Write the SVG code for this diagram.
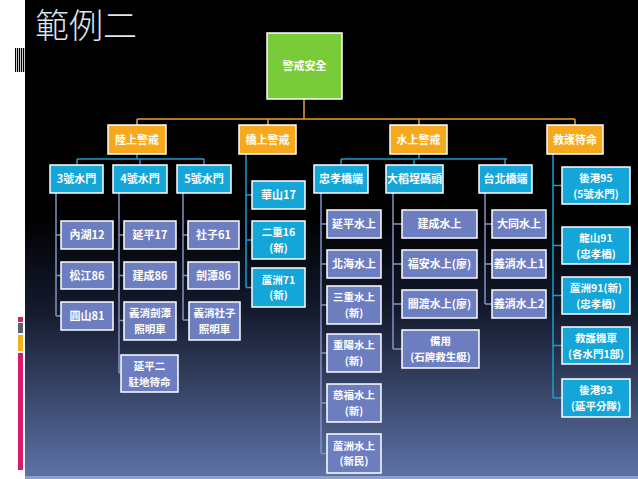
<svg xmlns="http://www.w3.org/2000/svg" width="638" height="479" viewBox="0 0 638 479">
<defs>
<linearGradient id="bg" x1="0" y1="0" x2="0" y2="1">
<stop offset="0" stop-color="#000000"/>
<stop offset="0.45" stop-color="#000000"/>
<stop offset="0.65" stop-color="#141b2e"/>
<stop offset="1" stop-color="#5e73a8"/>
</linearGradient>
<style>
.t{font-family:"Noto Sans CJK TC","Noto Sans CJK SC",sans-serif;font-weight:700;font-size:11px;fill:#ffffff;text-anchor:middle}
.t2{font-family:"Noto Sans CJK TC","Noto Sans CJK SC",sans-serif;font-weight:700;font-size:10.5px;fill:#ffffff;text-anchor:middle}
.g{fill:#7acb3a;stroke:#ffffff;stroke-width:1.5}
.o{fill:#f6a91d;stroke:#ffffff;stroke-width:1.5}
.c{fill:#14a6d8;stroke:#ffffff;stroke-width:1.5}
.p{fill:#6d7ec0;stroke:#ffffff;stroke-width:1.5}
.lo{fill:none;stroke:#e8a22c;stroke-width:1.5}
.lc{fill:none;stroke:#1e9ccc;stroke-width:1.5}
.lp{fill:none;stroke:#8590c4;stroke-width:1.5}
</style>
</defs>
<rect x="0" y="0" width="638" height="479" fill="#ffffff"/>
<rect x="25" y="0" width="613" height="479" fill="url(#bg)"/>
<rect x="25" y="476" width="613" height="3" fill="#8fa0cf"/>
<g id="deco">
<rect x="15" y="48" width="10" height="24" fill="#ffffff"/>
<rect x="15" y="48" width="1.2" height="24" fill="#000"/>
<rect x="17" y="48" width="1.2" height="24" fill="#000"/>
<rect x="19" y="48" width="1.2" height="24" fill="#000"/>
<rect x="21" y="48" width="1.2" height="24" fill="#000"/>
<rect x="23" y="48" width="1.2" height="24" fill="#000"/>
<rect x="18" y="317" width="5" height="5" fill="#d81b72"/>
<rect x="18" y="323" width="5" height="10" fill="#5a6070"/>
<rect x="18" y="335" width="5" height="16" fill="#f0b020"/>
<rect x="18" y="353" width="5" height="117" fill="#d81b72"/>
</g>
<text x="35" y="38" style="font-family:'Noto Sans CJK TC','Noto Sans CJK SC',sans-serif;font-weight:300;font-size:34px;fill:#dbe6ee">範例二</text>
<g id="connectors">
<path class="lo" d="M304,99V119M137,119H575M137,119V125M268,119V125M419,119V125M575,119V125"/>
<path class="lc" d="M137,154V159M77,159H204M77,159V165M140,159V165M204,159V165"/>
<path class="lc" d="M246,154V287.5M246,195H252M246,240H252M246,287.5H252"/>
<path class="lc" d="M419,154V159M341,159H507M341,159V165M414,159V165M505,159V165"/>
<path class="lc" d="M553,154V398M553,185.5H562M553,245.5H562M553,295.5H562M553,345.5H562M553,398H562"/>
<path class="lp" d="M56,193V316M56,235H61M56,275.5H61M56,316H61"/>
<path class="lp" d="M119,193V373M119,235H124M119,275.5H124M119,320.5H124M119,373H121"/>
<path class="lp" d="M183,193V320M183,235H188M183,275.5H188M183,320H189"/>
<path class="lp" d="M321,193V453.5M321,224H327M321,264H327M321,305H327M321,353H327M321,403H327M321,453.5H327"/>
<path class="lp" d="M393,193V349M393,224H402M393,264H402M393,304H402M393,349H402"/>
<path class="lp" d="M485,193V304M485,224H492M485,264H492M485,304H492"/>
</g>
<g id="n-root"><rect class="g" x="267" y="33" width="75" height="66"/><text class="t" x="304.5" y="70">警戒安全</text></g>
<g id="n-land"><rect class="o" x="108" y="125" width="58" height="29"/><text class="t" x="137" y="143.5">陸上警戒</text></g>
<g id="n-bridge"><rect class="o" x="239" y="125" width="57" height="29"/><text class="t" x="267.5" y="143.5">橋上警戒</text></g>
<g id="n-water"><rect class="o" x="390" y="125" width="57" height="29"/><text class="t" x="418.5" y="143.5">水上警戒</text></g>
<g id="n-rescue"><rect class="o" x="547" y="125" width="56" height="29"/><text class="t" x="575" y="143.5">救護待命</text></g>

<g id="n-g3"><rect class="c" x="50" y="165" width="53" height="28"/><text class="t" x="76.5" y="183">3號水門</text></g>
<g id="n-g4"><rect class="c" x="113" y="165" width="54" height="28"/><text class="t" x="140" y="183">4號水門</text></g>
<g id="n-g5"><rect class="c" x="177" y="165" width="54" height="28"/><text class="t" x="204" y="183">5號水門</text></g>

<g id="n-neihu"><rect class="p" x="61" y="221" width="52" height="28"/><text class="t" x="87" y="239">內湖12</text></g>
<g id="n-songjiang"><rect class="p" x="61" y="262" width="52" height="27"/><text class="t" x="87" y="279.5">松江86</text></g>
<g id="n-yuanshan"><rect class="p" x="61" y="302" width="52" height="28"/><text class="t" x="87" y="320">圓山81</text></g>

<g id="n-yanping"><rect class="p" x="124" y="221" width="52" height="28"/><text class="t" x="150" y="239">延平17</text></g>
<g id="n-jiancheng"><rect class="p" x="124" y="262" width="52" height="27"/><text class="t" x="150" y="279.5">建成86</text></g>
<g id="n-yxjt"><rect class="p" x="124" y="302" width="52" height="38"/><text class="t2" x="150" y="317">義消劍潭<tspan x="150" dy="15.5">照明車</tspan></text></g>
<g id="n-yp2"><rect class="p" x="121" y="355" width="57" height="37"/><text class="t2" x="149.5" y="370">延平二<tspan x="149.5" dy="15.5">駐地待命</tspan></text></g>

<g id="n-shezi"><rect class="p" x="188" y="221" width="51" height="28"/><text class="t" x="213.5" y="239">社子61</text></g>
<g id="n-jiantan"><rect class="p" x="188" y="262" width="51" height="27"/><text class="t" x="213.5" y="279.5">劍潭86</text></g>
<g id="n-yxsz"><rect class="p" x="189" y="302" width="51" height="38"/><text class="t2" x="214.5" y="317">義消社子<tspan x="214.5" dy="15.5">照明車</tspan></text></g>

<g id="n-huashan"><rect class="c" x="252" y="181" width="53" height="28"/><text class="t" x="278.5" y="199">華山17</text></g>
<g id="n-erchong"><rect class="c" x="252" y="221" width="53" height="38"/><text class="t2" x="278.5" y="236">二重16<tspan x="278.5" dy="15.5">(新)</tspan></text></g>
<g id="n-luzhou71"><rect class="c" x="252" y="268" width="53" height="39"/><text class="t2" x="278.5" y="283.5">蘆洲71<tspan x="278.5" dy="15.5">(新)</tspan></text></g>

<g id="n-zx"><rect class="c" x="314" y="165" width="54" height="28"/><text class="t" x="341" y="183">忠孝橋端</text></g>
<g id="n-dd"><rect class="c" x="386" y="165" width="57" height="28"/><text class="t" x="414.5" y="183">大稻埕碼頭</text></g>
<g id="n-tb"><rect class="c" x="479" y="165" width="53" height="28"/><text class="t" x="505.5" y="183">台北橋端</text></g>

<g id="n-ypsw"><rect class="p" x="327" y="210" width="54" height="28"/><text class="t" x="354" y="228">延平水上</text></g>
<g id="n-bhsw"><rect class="p" x="327" y="250" width="54" height="28"/><text class="t" x="354" y="268">北海水上</text></g>
<g id="n-scsw"><rect class="p" x="327" y="286" width="54" height="38"/><text class="t2" x="354" y="301">三重水上<tspan x="354" dy="15.5">(新)</tspan></text></g>
<g id="n-cysw"><rect class="p" x="327" y="334" width="54" height="38"/><text class="t2" x="354" y="349">重陽水上<tspan x="354" dy="15.5">(新)</tspan></text></g>
<g id="n-cfsw"><rect class="p" x="327" y="384" width="54" height="38"/><text class="t2" x="354" y="399">慈福水上<tspan x="354" dy="15.5">(新)</tspan></text></g>
<g id="n-lzsw"><rect class="p" x="327" y="434" width="54" height="39"/><text class="t2" x="354" y="449.5">蘆洲水上<tspan x="354" dy="15.5">(新民)</tspan></text></g>

<g id="n-jcsw"><rect class="p" x="402" y="210" width="75" height="28"/><text class="t" x="439.5" y="228">建成水上</text></g>
<g id="n-fasw"><rect class="p" x="402" y="250" width="75" height="28"/><text class="t" x="439.5" y="268">福安水上(廖)</text></g>
<g id="n-gdsw"><rect class="p" x="402" y="290" width="75" height="28"/><text class="t" x="439.5" y="308">關渡水上(廖)</text></g>
<g id="n-by"><rect class="p" x="402" y="330" width="77" height="38"/><text class="t2" x="440.5" y="345">備用<tspan x="440.5" dy="15.5">(石牌救生艇)</tspan></text></g>

<g id="n-dtsw"><rect class="p" x="492" y="210" width="54" height="28"/><text class="t" x="519" y="228">大同水上</text></g>
<g id="n-yx1"><rect class="p" x="492" y="250" width="54" height="28"/><text class="t" x="519" y="268">義消水上1</text></g>
<g id="n-yx2"><rect class="p" x="492" y="290" width="54" height="28"/><text class="t" x="519" y="308">義消水上2</text></g>

<g id="n-hg95"><rect class="c" x="562" y="167" width="68" height="37"/><text class="t2" x="596" y="182">後港95<tspan x="596" dy="15.5">(5號水門)</tspan></text></g>
<g id="n-ls91"><rect class="c" x="562" y="227" width="68" height="37"/><text class="t2" x="596" y="242">龍山91<tspan x="596" dy="15.5">(忠孝橋)</tspan></text></g>
<g id="n-lz91"><rect class="c" x="562" y="277" width="68" height="37"/><text class="t2" x="596" y="292">蘆洲91(新)<tspan x="596" dy="15.5">(忠孝橋)</tspan></text></g>
<g id="n-jhjc"><rect class="c" x="562" y="327" width="68" height="37"/><text class="t2" x="596" y="342">救護機車<tspan x="596" dy="15.5">(各水門1部)</tspan></text></g>
<g id="n-hg93"><rect class="c" x="562" y="379" width="68" height="38"/><text class="t2" x="596" y="394">後港93<tspan x="596" dy="15.5">(延平分隊)</tspan></text></g>
</svg>
